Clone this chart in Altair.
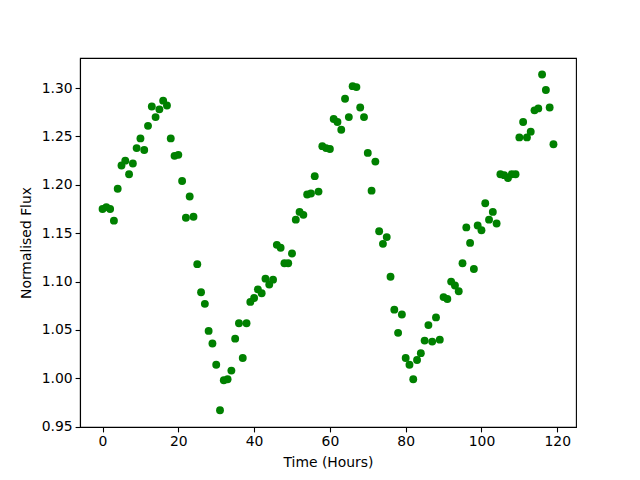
import altair as alt
import pandas as pd

hours = list(range(120))
flux = [
    1.175, 1.177, 1.175, 1.163, 1.196, 1.220, 1.225, 1.211, 1.222, 1.238,
    1.248, 1.236, 1.261, 1.281, 1.270, 1.278, 1.287, 1.282, 1.248, 1.230,
    1.231, 1.204, 1.166, 1.188, 1.167, 1.118, 1.089, 1.077, 1.049, 1.036,
    1.014, 0.967, 0.998, 0.999, 1.008, 1.041, 1.057, 1.021, 1.057, 1.079,
    1.083, 1.092, 1.088, 1.103, 1.097, 1.102, 1.138, 1.135, 1.119, 1.119,
    1.129, 1.164, 1.172, 1.169, 1.190, 1.191, 1.209, 1.193, 1.240, 1.238,
    1.237, 1.268, 1.265, 1.257, 1.289, 1.270, 1.302, 1.301, 1.280, 1.270,
    1.233, 1.194, 1.224, 1.152, 1.139, 1.146, 1.105, 1.071, 1.047, 1.066,
    1.021, 1.014, 0.999, 1.019, 1.026, 1.039, 1.055, 1.038, 1.063, 1.040,
    1.084, 1.082, 1.100, 1.096, 1.090, 1.119, 1.156, 1.140, 1.113, 1.158,
    1.153, 1.181, 1.164, 1.172, 1.160, 1.211, 1.210, 1.207, 1.211, 1.211,
    1.249, 1.265, 1.249, 1.255, 1.277, 1.279, 1.314, 1.298, 1.280, 1.242,
]
x_ticks = [0, 20, 40, 60, 80, 100, 120]
y_ticks = [0.95, 1.00, 1.05, 1.10, 1.15, 1.20, 1.25, 1.30]

df = pd.DataFrame({"hours": hours, "flux": flux})

font = "DejaVu Sans"

chart = alt.Chart(df).mark_circle(color="#008000", opacity=1, size=62).encode(
    x=alt.X("hours:Q", title="Time (Hours)",
            scale=alt.Scale(domain=[-5.95, 124.95], nice=False, zero=False),
            axis=alt.Axis(values=x_ticks, format="d", grid=False)),
    y=alt.Y("flux:Q", title="Normalised Flux",
            scale=alt.Scale(domain=[0.9497, 1.3311], nice=False, zero=False),
            axis=alt.Axis(values=y_ticks, format=".2f", grid=False)),
).properties(
    width=496, height=369,
    background="white",
    autosize=alt.AutoSizeParams(type="none"),
    padding={"left": 72, "top": 50, "right": 56, "bottom": 45},
).configure_view(
    stroke="black", strokeWidth=1.1
).configure_axis(
    domainColor="black", domainWidth=1.1,
    tickColor="black", tickSize=4.9, tickWidth=1.1,
    labelColor="black", labelFont=font, labelFontSize=13.9, labelPadding=3,
    titleColor="black", titleFont=font, titleFontSize=13.9, titleFontWeight="normal",
    titlePadding=7,
).configure_axisY(
    titlePadding=8
)

chart.save("out.html", embed_options={"renderer": "svg", "actions": False})
